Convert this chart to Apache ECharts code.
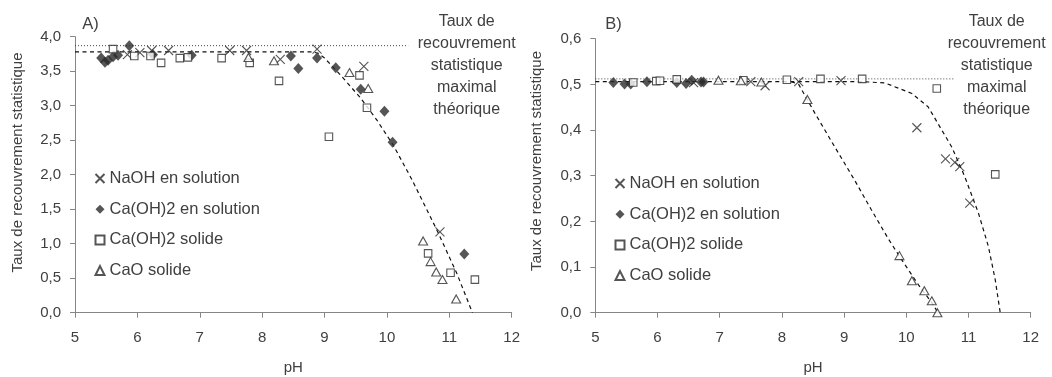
<!DOCTYPE html>
<html>
<head>
<meta charset="utf-8">
<script src="https://cdn.jsdelivr.net/npm/echarts@6/dist/echarts.min.js"></script>
<style>
html,body{margin:0;padding:0;background:#fff;}
#chart{width:1052px;height:377px;}
</style>
</head>
<body>
<div id="chart"></div>
<script>
// ---------- DATA ----------
const seriesNames = ['NaOH en solution', 'Ca(OH)2 en solution', 'Ca(OH)2 solide', 'CaO solide'];
const yAxisTitle = 'Taux de recouvrement statistique';
const xAxisTitle = 'pH';
const annotationLines = ['Taux de', 'recouvrement', 'statistique', 'maximal', 'théorique'];
const panelLabels = ['A)', 'B)'];

// Panel A  [pH, taux]
const naohA = [[5.84,3.74],[6.04,3.77],[6.23,3.80],[6.50,3.80],[7.48,3.80],[7.75,3.80],[8.29,3.67],[8.88,3.82],[9.63,3.57],[10.85,1.17]];
const caohSolA = [[5.42,3.69],[5.48,3.63],[5.53,3.66],[5.61,3.71],[5.69,3.73],[5.87,3.87],[6.25,3.74],[6.87,3.73],[8.46,3.72],[8.58,3.54],[8.88,3.69],[9.18,3.55],[9.58,3.24],[9.96,2.92],[10.09,2.47],[11.24,0.85]];
const caohSolidA = [[5.61,3.82],[5.95,3.72],[6.21,3.72],[6.38,3.62],[6.68,3.69],[6.81,3.70],[7.35,3.69],[7.80,3.62],[8.27,3.36],[9.07,2.55],[9.56,3.44],[9.68,2.97],[10.66,0.86],[11.02,0.58],[11.41,0.48]];
const caoA = [[7.78,3.70],[8.19,3.65],[9.40,3.48],[9.70,3.25],[10.58,1.04],[10.70,0.74],[10.79,0.59],[10.89,0.48],[11.11,0.20]];
const maxLineA = [[5,3.87],[10.34,3.87]];
const fitA = [[5,3.78],[8.8,3.78],[8.9,3.76],[9.0,3.69],[9.25,3.45],[9.57,3.12],[9.84,2.79],[10.1,2.43],[10.4,1.93],[10.8,1.2],[11.12,0.57],[11.37,0]];

// Panel B  [pH, taux]
const naohB = [[6.58,0.504],[7.50,0.506],[7.73,0.497],[8.27,0.506],[8.95,0.508],[10.17,0.405],[10.63,0.337],[10.78,0.329],[10.86,0.320],[11.02,0.240]];
const caohSolB = [[5.29,0.504],[5.47,0.501],[5.57,0.501],[5.83,0.506],[6.31,0.504],[6.46,0.502],[6.55,0.509],[6.70,0.505],[6.74,0.505]];
const caohSolidB = [[5.61,0.504],[5.98,0.507],[6.04,0.508],[6.31,0.511],[7.38,0.509],[8.08,0.510],[8.62,0.512],[9.29,0.512],[10.49,0.491],[11.43,0.303]];
const caoB = [[6.98,0.509],[7.34,0.508],[7.67,0.505],[8.41,0.467],[9.89,0.125],[10.09,0.070],[10.29,0.048],[10.41,0.026],[10.50,0.000]];
const maxLineB = [[5,0.512],[10.78,0.512]];
const fitB1 = [[5,0.506],[9.3,0.506],[9.66,0.503],[10.09,0.48],[10.35,0.451],[10.57,0.40],[10.73,0.363],[10.94,0.298],[11.16,0.218],[11.32,0.145],[11.43,0.072],[11.51,0]];
const fitB2 = [[8.15,0.506],[8.27,0.50],[8.53,0.437],[8.85,0.363],[9.17,0.29],[9.44,0.225],[9.71,0.162],[9.93,0.115],[10.19,0.062],[10.41,0.022],[10.51,0]];

// ---------- STYLE ----------
const FONT = '"Liberation Sans", Arial, sans-serif';
const TXT = '#404040';
const AX = '#868686';
const MK = '#2b2b2b';
const crossPath = 'path://M0,0L10,10M10,0L0,10';

function scatter(name, data, idx) {
  const base = {type:'scatter', name, data, xAxisIndex:idx, yAxisIndex:idx, z:5};
  if (name === seriesNames[0]) return Object.assign(base, {symbol:crossPath, symbolSize:9, itemStyle:{color:'none', borderColor:MK, borderWidth:1.1}});
  if (name === seriesNames[1]) return Object.assign(base, {symbol:'diamond', symbolSize:[10,11], itemStyle:{color:MK}});
  if (name === seriesNames[2]) return Object.assign(base, {symbol:'rect', symbolSize:7.5, itemStyle:{color:'#fff', borderColor:MK, borderWidth:1.1}});
  return Object.assign(base, {symbol:'triangle', symbolSize:[9,8], itemStyle:{color:'#fff', borderColor:MK, borderWidth:1.1}});
}
function line(data, idx, dotted) {
  return {type:'line', data, xAxisIndex:idx, yAxisIndex:idx, symbol:'none', z:2, silent:true,
    lineStyle:{color: dotted ? '#444' : '#111', width: dotted ? 1 : 1.2, type: dotted ? [1,2] : [4,3.5]}};
}
function xAxis(idx) {
  return {gridIndex:idx, type:'value', min:5, max:12, interval:1,
    name:xAxisTitle, nameLocation:'middle', nameGap:48,
    nameTextStyle:{fontFamily:FONT, fontSize:15, color:TXT},
    axisLine:{lineStyle:{color:AX, width:1}}, axisTick:{show:true, inside:false, length:5, lineStyle:{color:AX}},
    axisLabel:{fontFamily:FONT, fontSize:15, color:TXT, margin:18}, splitLine:{show:false}};
}
function yAxis(idx, max, interval) {
  return {gridIndex:idx, type:'value', min:0, max, interval,
    axisLine:{show:true, lineStyle:{color:AX, width:1}}, axisTick:{show:true, inside:false, length:5, lineStyle:{color:AX}},
    axisLabel:{fontFamily:FONT, fontSize:15, color:TXT, margin:14, formatter:v => v.toFixed(1).replace('.', ',')},
    splitLine:{show:false}};
}
function legend(left, top) {
  return {orient:'vertical', left, top, itemWidth:9, itemHeight:9, itemGap:13.7, data:seriesNames,
    textStyle:{fontFamily:FONT, fontSize:16.5, color:TXT, lineHeight:16}, selectedMode:false};
}
function txt(x, y, text, size, extra) {
  return Object.assign({type:'text', x, y, silent:true,
    style:{text, fontFamily:FONT, fontSize:size, fill:TXT, textAlign:'center', textVerticalAlign:'middle'}}, extra || {});
}

const option = {
  animation:false,
  backgroundColor:'#fff',
  grid:[
    {left:75, top:36.7, width:436.7, height:276, outerBoundsMode:'none', containLabel:false},
    {left:595.3, top:38.7, width:435.4, height:274, outerBoundsMode:'none', containLabel:false}
  ],
  xAxis:[xAxis(0), xAxis(1)],
  yAxis:[yAxis(0, 4, 0.5), yAxis(1, 0.6, 0.1)],
  legend:[legend(88, 165), legend(608, 170)],
  series:[
    line(maxLineA, 0, true), line(fitA, 0, false),
    scatter(seriesNames[0], naohA, 0), scatter(seriesNames[1], caohSolA, 0),
    scatter(seriesNames[2], caohSolidA, 0), scatter(seriesNames[3], caoA, 0),
    line(maxLineB, 1, true), line(fitB1, 1, false), line(fitB2, 1, false),
    scatter(seriesNames[0], naohB, 1), scatter(seriesNames[1], caohSolB, 1),
    scatter(seriesNames[2], caohSolidB, 1), scatter(seriesNames[3], caoB, 1)
  ],
  graphic:[
    txt(90.5, 24.5, panelLabels[0], 16.5),
    txt(613.5, 24.5, panelLabels[1], 16.5),
    txt(18, 162.5, yAxisTitle, 15, {rotation:Math.PI/2}),
    txt(537, 161, yAxisTitle, 15, {rotation:Math.PI/2}),
    {type:'text', x:466.7, y:10.5, silent:true, style:{text:annotationLines.join('\n'), fontFamily:FONT, fontSize:16, lineHeight:22, fill:TXT, textAlign:'center', textVerticalAlign:'top'}},
    {type:'text', x:996.7, y:10.5, silent:true, style:{text:annotationLines.join('\n'), fontFamily:FONT, fontSize:16, lineHeight:22, fill:TXT, textAlign:'center', textVerticalAlign:'top'}}
  ]
};
const chart = echarts.init(document.getElementById('chart'), null, {renderer:'canvas'});
chart.setOption(option);
</script>
</body>
</html>
